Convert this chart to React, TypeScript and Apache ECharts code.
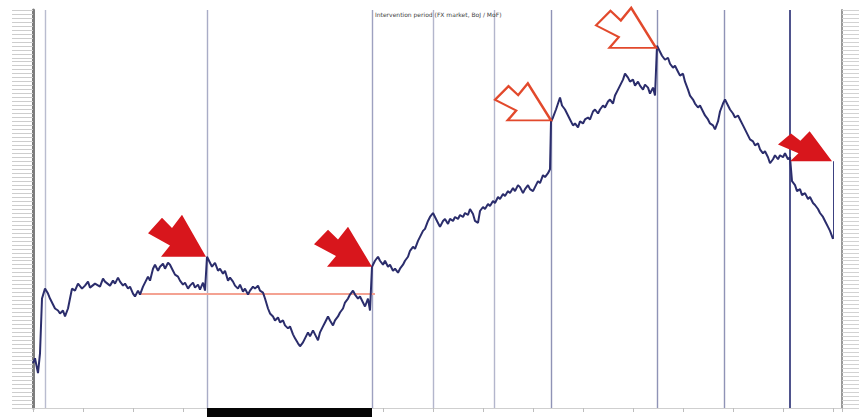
import React, { useEffect, useRef } from "react";
import * as echarts from "echarts";

// time index (trading days) and exchange-rate level (index units)
const days = [0,2,5,7,9,12,15,17,20,22,25,27,30,32,35,37,39,42,45,49,52,55,57,62,67,70,72,77,80,82,85,87,90,92,95,97,100,102,105,107,110,112,115,117,120,122,125,127,130,132,135,137,140,142,145,147,150,152,155,157,160,162,165,167,170,172,174,176,179,182,185,187,190,192,195,197,200,202,205,207,210,212,215,217,220,222,225,227,230,232,235,237,240,242,245,247,250,252,255,257,260,262,265,267,270,272,275,277,280,282,285,287,290,292,295,297,300,302,305,307,310,312,315,317,320,322,325,327,330,332,335,337,339,342,345,347,350,352,355,357,360,362,365,367,370,372,375,377,380,382,385,387,390,392,395,397,400,402,405,407,410,412,415,417,420,422,425,427,430,432,435,437,440,442,445,447,450,452,455,457,460,462,465,467,470,472,475,477,480,482,485,487,490,492,495,497,500,502,505,507,510,512,515,517,518,520,523,525,527,529,532,535,537,540,542,545,547,550,552,555,557,560,562,565,567,570,572,575,577,580,582,585,587,590,592,595,597,600,602,605,607,610,612,615,617,620,622,624,626,629,632,635,637,640,642,645,647,650,652,655,657,660,662,665,667,670,672,675,677,680,682,685,687,690,692,695,697,700,702,705,707,710,712,715,717,720,722,725,727,730,732,735,737,740,742,745,747,750,752,755,757,759,762,764,767,769,772,775,777,780,782,785,787,790,792,795,797,800];
const rate = [45,50,35,55,110,120,115,110,104,100,98,95,98,92,100,110,120,118,125,120,123,127,121,125,122,130,127,123,128,125,131,127,123,125,120,122,115,112,118,114,122,126,132,128,140,144,138,142,145,140,146,144,138,134,132,128,124,126,120,123,126,121,124,119,126,118,152,148,142,146,138,140,135,138,128,131,127,123,120,124,117,120,114,118,122,120,123,118,116,110,100,95,92,88,91,86,88,83,80,82,74,70,65,62,66,70,76,72,78,74,68,76,82,86,92,88,83,88,92,96,100,106,110,114,118,114,110,112,106,102,110,98,142,148,152,148,144,148,142,144,138,140,136,140,144,148,152,158,162,160,168,172,178,180,188,192,196,192,186,182,188,190,185,190,188,192,190,194,192,196,194,200,195,188,186,198,202,200,205,203,208,206,212,210,215,213,218,216,221,218,224,222,216,220,224,220,218,222,228,226,234,232,236,240,288,292,300,306,312,304,300,294,290,284,286,282,288,286,290,292,290,298,300,296,300,304,302,308,310,306,314,320,324,330,336,332,328,330,324,328,324,320,325,322,316,322,314,364,360,354,350,352,346,342,344,338,334,336,328,320,314,310,306,302,304,298,294,290,286,284,280,288,298,306,310,304,300,296,292,294,290,284,280,274,270,268,264,266,260,256,258,252,246,250,254,250,254,252,256,250,252,228,224,218,220,214,216,210,212,206,204,200,196,192,188,182,178,170];

// event markers (trading-day index)
const eventDays = [12, 174, 339, 400, 461, 518, 624, 691, 757];
// arrow annotation tips [day, level]
const solidArrowTips = [[173, 152], [339, 142], [799, 248]];
const hollowArrowTips = [[518, 289], [623, 362]];
// reference level segment
const refLevel = 115;
const refStart = 107;
const refEnd = 342;
// shaded period on the time axis
const periodStart = 174;
const periodEnd = 339;
// end-of-data drop
const endDrop = [[800, 248], [800, 170]];

const arrowPath = "path://M0,18 L14,3 L24,13 L34,0 L58,41 L13,41 L22,30 Z";

export default function App() {
  const ref = useRef<HTMLDivElement>(null);
  useEffect(() => {
    document.body.style.margin = "0";
    if (!ref.current) return;
    const chart = echarts.init(ref.current, undefined, { renderer: "svg" });
    const lineData = days.map((d, i) => [d, rate[i]]);
    const vColors: Record<number, string> = {
      12: "#b9bccf", 174: "#a9acc6", 339: "#9ea1c0", 400: "#b3b6cc", 461: "#b3b6cc",
      518: "#8f93b6", 624: "#8f93b6", 691: "#8f93b6", 757: "#3c4180",
    };
    const sizes: Record<string, number[]> = {
      "173": [58, 42], "339": [58, 40], "799": [54, 30], "518": [56, 37], "623": [60, 40],
    };
    const mp: any[] = [];
    solidArrowTips.forEach((t) => {
      const s = sizes[String(t[0])];
      mp.push({
        coord: t,
        symbol: arrowPath,
        symbolSize: s,
        symbolOffset: [-s[0] / 2, -s[1] / 2],
        itemStyle: { color: "#d8161c", borderWidth: 0 },
      });
    });
    hollowArrowTips.forEach((t) => {
      const s = sizes[String(t[0])];
      mp.push({
        coord: t,
        symbol: arrowPath,
        symbolSize: s,
        symbolOffset: [-s[0] / 2, -s[1] / 2],
        itemStyle: { color: "#ffffff", borderColor: "#e2492c", borderWidth: 2.2 },
      });
    });
    const ml: any[] = eventDays.map((d) => ({
      xAxis: d,
      lineStyle: { color: vColors[d] || "#b3b6cc", width: d === 757 ? 1.8 : 1.4, type: "solid" },
    }));
    ml.push([
      { coord: [refStart, refLevel], lineStyle: { color: "#f4a292", width: 2.2, type: "solid" } },
      { coord: [refEnd, refLevel] },
    ]);
    ml.push([
      { coord: endDrop[0], lineStyle: { color: "#3c4180", width: 1, type: "solid" } },
      { coord: endDrop[1] },
    ]);

    chart.setOption({
      animation: false,
      backgroundColor: "#ffffff",
      grid: { left: 33, right: 24, top: 10, bottom: 9 },
      xAxis: {
        type: "value",
        min: 0,
        max: 809,
        interval: 50,
        axisLine: { show: true, lineStyle: { color: "#cfcfcf", width: 1 } },
        axisTick: { show: true, length: 4, lineStyle: { color: "#bdbdbd" } },
        axisLabel: { show: false },
        splitLine: { show: false },
      },
      yAxis: [
        {
          type: "value",
          min: 0,
          max: 400,
          interval: 4,
          position: "left",
          axisLine: { show: true, lineStyle: { color: "#7d7d7d", width: 3 } },
          axisTick: { show: true, length: 21, inside: false, lineStyle: { color: "#cdcdcd", width: 1 } },
          axisLabel: { show: false },
          splitLine: { show: false },
        },
        {
          type: "value",
          min: 0,
          max: 400,
          interval: 4,
          position: "right",
          axisLine: { show: true, lineStyle: { color: "#9a9a9a", width: 2 } },
          axisTick: { show: true, length: 17, lineStyle: { color: "#d2d2d2", width: 1 } },
          axisLabel: { show: false },
          splitLine: { show: false },
        },
      ],
      series: [
        {
          type: "line",
          data: lineData,
          showSymbol: false,
          symbol: "none",
          lineStyle: { color: "#2b2d6c", width: 2 },
          z: 3,
          markLine: {
            silent: true,
            symbol: "none",
            label: { show: false },
            data: ml,
            z: 1,
          },
          markPoint: {
            silent: true,
            label: { show: false },
            data: mp,
            z: 5,
          },
        },
      ],
    });

    const x0 = chart.convertToPixel({ xAxisIndex: 0 }, periodStart) as number;
    const x1 = chart.convertToPixel({ xAxisIndex: 0 }, periodEnd) as number;
    const tx = chart.convertToPixel({ xAxisIndex: 0 }, eventDays[2]) as number;
    chart.setOption({
      graphic: [
        {
          type: "rect",
          shape: { x: x0, y: 408, width: x1 - x0, height: 9 },
          style: { fill: "#050505" },
          z: 10,
        },
        {
          type: "text",
          x: tx + 3,
          y: 11,
          style: {
            text: "Intervention period (FX market, BoJ / MoF)",
            fontSize: 6,
            fill: "#444444",
            fontFamily: "DejaVu Sans",
          },
          z: 10,
        },
      ],
    });
    return () => chart.dispose();
  }, []);
  return <div ref={ref} style={{ width: 866, height: 417 }} />;
}
